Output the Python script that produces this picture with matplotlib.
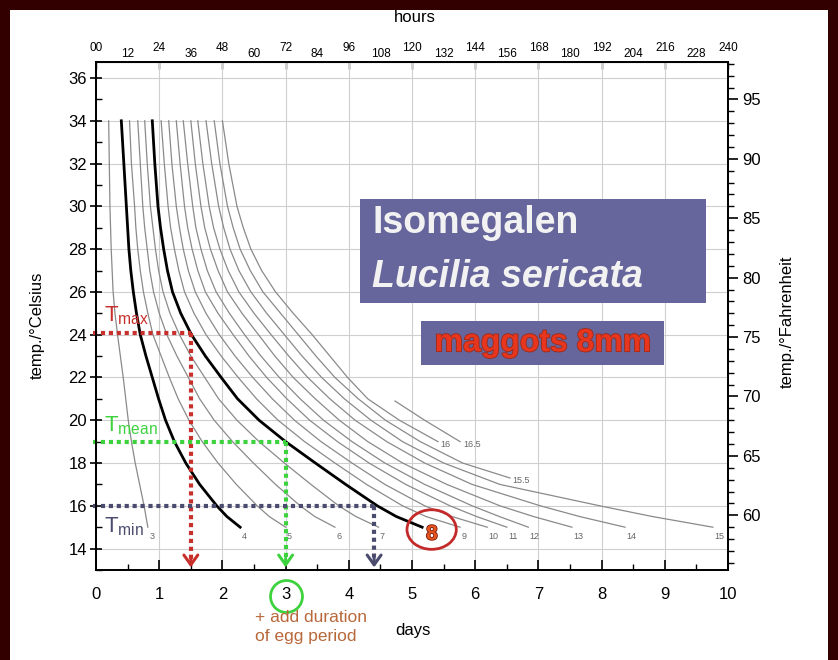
import matplotlib.pyplot as plt
import matplotlib.patheffects as pe
from matplotlib.patches import Rectangle, Ellipse
from matplotlib.ticker import MultipleLocator

plt.rcParams['font.family'] = ['Liberation Sans', 'DejaVu Sans']

# temperatures (deg C) where the isomegalen curves were read
temps = [34, 32, 30, 29, 28, 27, 26, 25, 24, 23, 22, 21, 20, 19, 18, 17, 16, 15.5, 15]

# days needed to reach a maggot length (mm), one list per curve
days_3 = [0.20, 0.21, 0.22, 0.23, 0.24, 0.255, 0.27, 0.30, 0.34, 0.385, 0.43, 0.47, 0.51, 0.56, 0.62, 0.69, 0.76, 0.79, 0.82]
days_4 = [0.40, 0.44, 0.48, 0.50, 0.52, 0.55, 0.59, 0.64, 0.70, 0.79, 0.89, 0.99, 1.10, 1.24, 1.42, 1.64, 1.91, 2.07, 2.28]
days_5 = [0.53, 0.56, 0.61, 0.63, 0.66, 0.70, 0.75, 0.82, 0.90, 1.03, 1.16, 1.30, 1.47, 1.68, 1.93, 2.22, 2.55, 2.74, 3.00]
days_6 = [0.66, 0.70, 0.74, 0.77, 0.81, 0.85, 0.91, 1.00, 1.12, 1.28, 1.46, 1.64, 1.87, 2.16, 2.49, 2.84, 3.23, 3.46, 3.78]
days_7 = [0.77, 0.81, 0.86, 0.90, 0.94, 0.99, 1.06, 1.17, 1.32, 1.50, 1.72, 1.94, 2.23, 2.58, 2.98, 3.40, 3.84, 4.11, 4.47]
days_8 = [0.89, 0.93, 0.98, 1.02, 1.07, 1.13, 1.21, 1.34, 1.51, 1.73, 1.98, 2.24, 2.58, 3.00, 3.47, 3.95, 4.45, 4.75, 5.16]
days_9 = [1.03, 1.08, 1.14, 1.18, 1.24, 1.31, 1.40, 1.55, 1.74, 1.98, 2.25, 2.54, 2.88, 3.30, 3.78, 4.28, 4.85, 5.22, 5.76]
days_10 = [1.15, 1.20, 1.27, 1.32, 1.38, 1.46, 1.57, 1.74, 1.95, 2.20, 2.48, 2.79, 3.14, 3.56, 4.05, 4.57, 5.20, 5.63, 6.19]
days_11 = [1.27, 1.33, 1.40, 1.45, 1.52, 1.61, 1.73, 1.93, 2.17, 2.42, 2.70, 3.02, 3.38, 3.82, 4.32, 4.90, 5.60, 6.02, 6.50]
days_12 = [1.38, 1.45, 1.53, 1.58, 1.66, 1.76, 1.90, 2.11, 2.35, 2.61, 2.90, 3.23, 3.60, 4.05, 4.57, 5.20, 5.95, 6.38, 6.84]
days_13 = [1.50, 1.57, 1.66, 1.72, 1.81, 1.93, 2.08, 2.31, 2.57, 2.83, 3.12, 3.47, 3.85, 4.30, 4.85, 5.55, 6.39, 6.92, 7.53]
days_14 = [1.61, 1.69, 1.79, 1.86, 1.96, 2.09, 2.26, 2.50, 2.77, 3.05, 3.35, 3.70, 4.10, 4.60, 5.20, 5.95, 7.03, 7.65, 8.37]
days_15 = [1.74, 1.83, 1.94, 2.02, 2.12, 2.26, 2.45, 2.70, 2.98, 3.26, 3.57, 3.93, 4.35, 4.85, 5.50, 6.39, 7.97, 8.80, 9.76]

temps_15_5 = [34, 32, 30, 29, 28, 27, 26, 25, 24, 23, 22, 21, 20, 19, 18, 17.3]
days_15_5 = [1.87, 1.96, 2.08, 2.17, 2.28, 2.44, 2.64, 2.92, 3.20, 3.48, 3.78, 4.15, 4.58, 5.13, 5.80, 6.55]
temps_16 = [34, 32, 30, 29, 28, 27, 26, 25, 24, 23, 22, 21, 20, 19]
days_16 = [2.00, 2.10, 2.23, 2.33, 2.45, 2.62, 2.84, 3.12, 3.42, 3.70, 3.98, 4.30, 4.80, 5.41]
temps_16_5 = [20.9, 20, 19]
days_16_5 = [4.73, 5.20, 5.76]

# example reading: temperatures and resulting age for 8 mm maggots
t_max, t_mean, t_min = 24.1, 19.0, 16.0
age_max, age_mean, age_min = 1.5, 3.0, 4.4

hour_labels = ['00', '12', '24', '36', '48', '60', '72', '84', '96', '108', '120',
               '132', '144', '156', '168', '180', '192', '204', '216', '228', '240']

curves = [
    ('3', temps, days_3), ('4', temps, days_4), ('5', temps, days_5),
    ('6', temps, days_6), ('7', temps, days_7), ('8', temps, days_8),
    ('9', temps, days_9), ('10', temps, days_10), ('11', temps, days_11),
    ('12', temps, days_12), ('13', temps, days_13), ('14', temps, days_14),
    ('15', temps, days_15), ('15.5', temps_15_5, days_15_5),
    ('16', temps_16, days_16), ('16.5', temps_16_5, days_16_5),
]
bold = ['4', '8']

fig = plt.figure(figsize=(8.38, 6.6), dpi=100)
fig.patch.set_facecolor('#330000')
fig.add_artist(Rectangle((0.012, 0), 0.976, 0.985, transform=fig.transFigure,
                         fc='white', ec='none', zorder=-10))

ax = fig.add_axes([0.1146, 0.1364, 0.7542, 0.7697])
ax.set_xlim(0, 10)
ax.set_ylim(13, 36.75)
ax.set_xticks(range(0, 11))
ax.set_yticks(range(14, 37, 2))
ax.xaxis.set_minor_locator(MultipleLocator(0.5))
ax.yaxis.set_minor_locator(MultipleLocator(1))
ax.grid(color='#cfcfcf', lw=0.8)
ax.set_axisbelow(True)
ax.tick_params(axis='x', which='major', direction='in', length=7, width=1.2, labelsize=12, pad=12)
ax.tick_params(axis='x', which='minor', direction='in', length=4, width=1.0)
ax.tick_params(axis='y', which='major', direction='inout', length=9, width=1.2, labelsize=12, pad=2)
ax.tick_params(axis='y', which='minor', direction='in', length=4, width=1.0)
for s in ax.spines.values():
    s.set_linewidth(1.3)

for lab, tt, dd in curves:
    if lab in bold:
        ax.plot(dd, tt, color='black', lw=2.0, zorder=3)
    else:
        ax.plot(dd, tt, color='#8a8a8a', lw=0.9, zorder=2)
    if lab == '8':
        ax.annotate('8', xy=(dd[-1], tt[-1]), xytext=(7, -5), textcoords='offset points',
                    ha='center', va='center', fontsize=15, color='#e4551f', fontweight='bold',
                    path_effects=[pe.withStroke(linewidth=1.2, foreground='#7a1a10')], zorder=6)
    elif lab in ('15.5', '16', '16.5'):
        ax.annotate(lab, xy=(dd[-1], tt[-1]), xytext=(2, -2), textcoords='offset points',
                    ha='left', va='center', fontsize=6.5, color='#666666')
    else:
        ax.annotate(lab, xy=(dd[-1], tt[-1]), xytext=(1, -7), textcoords='offset points',
                    ha='left', va='center', fontsize=6.5, color='#666666')

# circle around the 8 mm end label
ax.add_patch(Ellipse((5.31, 14.89), 0.78, 1.85, fill=False, ec='#c42a2a', lw=2, zorder=6))

# the worked example: Tmax / Tmean / Tmin readings
dot = (0, (1, 0.9))
readings = [(t_max, age_max, '#c8302c'),
            (t_mean, age_mean, '#3fd23f'),
            (t_min, age_min, '#4b4b6e')]
for t, age, col in readings:
    ax.plot([-0.05, age], [t, t], color=col, lw=3, ls=dot, zorder=4, clip_on=False)
    ax.plot([age, age], [t, 13.3], color=col, lw=3, ls=dot, zorder=4)
    ax.annotate('', xy=(age, 13.12), xytext=(age, 13.55),
                arrowprops=dict(arrowstyle='->,head_length=0.35,head_width=0.25', color=col,
                                lw=2.2, mutation_scale=20, shrinkA=0, shrinkB=0), zorder=4)
ax.text(0.12, 24.6, r'T$_{\mathregular{max}}$', color='#c8302c', fontsize=16, zorder=5)
ax.text(0.12, 19.5, r'T$_{\mathregular{mean}}$', color='#3fd23f', fontsize=16, zorder=5)
ax.text(0.12, 14.75, r'T$_{\mathregular{min}}$', color='#4b4b6e', fontsize=16, zorder=5)

# title boxes
box_col = '#66669c'
ax.add_patch(Rectangle((4.18, 25.5), 5.47, 4.86, fc=box_col, ec='none', zorder=7))
ax.text(4.37, 29.2, 'Isomegalen', color='#f2f2f2', fontsize=27, fontweight='bold',
        va='center', ha='left', zorder=8)
ax.text(4.37, 26.7, 'Lucilia sericata', color='#f2f2f2', fontsize=27, fontweight='bold',
        fontstyle='italic', va='center', ha='left', zorder=8)
ax.add_patch(Rectangle((5.14, 22.6), 3.85, 2.05, fc=box_col, ec='none', zorder=7))
ax.text(7.07, 23.6, 'maggots 8mm', color='#e8361e', fontsize=23, fontweight='bold',
        va='center', ha='center', zorder=8,
        path_effects=[pe.withStroke(linewidth=1.2, foreground='#9a2a1a')])

# green circle around the day-3 tick label
ax.plot([3.0], [11.8], 'o', ms=23, mfc='none', mec='#3fd23f', mew=2, clip_on=False)

# hours axis on top (staggered labels)
top = ax.secondary_xaxis('top')
top.set_xticks(range(0, 11))
top.set_xticklabels([])
top.tick_params(direction='in', length=5, width=1.0)
for i, lab in enumerate(hour_labels):
    ax.annotate(lab, xy=(i * 0.5, 1.0), xycoords=('data', 'axes fraction'),
                xytext=(0, 6 if i % 2 == 0 else 1.5), textcoords='offset points',
                ha='center', va='bottom', fontsize=8.5)

# Fahrenheit axis
ax2 = ax.twinx()
ax2.set_ylim(13 * 9 / 5 + 32, 36.75 * 9 / 5 + 32)
ax2.set_yticks(range(60, 96, 5))
ax2.yaxis.set_minor_locator(MultipleLocator(1))
ax2.tick_params(axis='y', which='major', direction='out', length=7, width=1.2, labelsize=12, pad=3)
ax2.tick_params(axis='y', which='minor', direction='out', length=4, width=1.0)
for s in ax2.spines.values():
    s.set_linewidth(1.3)

fig.text(37 / 838, 1 - 325 / 660, 'temp./°Celsius', rotation=90, ha='center', va='center', fontsize=12)
fig.text(787 / 838, 1 - 322 / 660, 'temp./°Fahrenheit', rotation=90, ha='center', va='center', fontsize=12)
fig.text(415 / 838, 1 - 18 / 660, 'hours', ha='center', va='center', fontsize=12)
fig.text(413 / 838, 1 - 630 / 660, 'days', ha='center', va='center', fontsize=12)
fig.text(255 / 838, 1 - 627 / 660, '+ add duration\nof egg period', ha='left', va='center',
         fontsize=12.5, color='#b8683a', linespacing=1.3,
         family=['Liberation Sans Narrow', 'Liberation Sans'])

fig.savefig('out.png', dpi=100, facecolor=fig.get_facecolor())
